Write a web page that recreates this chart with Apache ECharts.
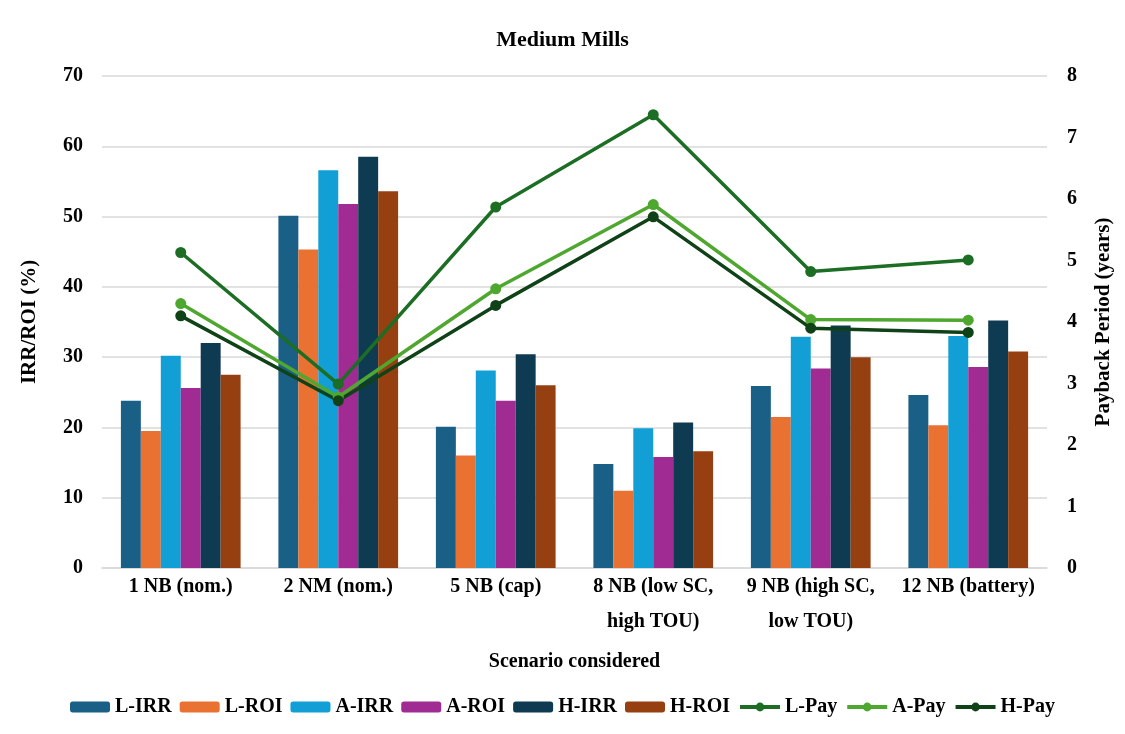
<!DOCTYPE html>
<html>
<head>
<meta charset="utf-8">
<script src="https://cdn.jsdelivr.net/npm/echarts@6/dist/echarts.min.js"></script>
<style>
  html, body { margin: 0; padding: 0; background: #ffffff; }
  #chart { width: 1125px; height: 734px; }
</style>
</head>
<body>
<div id="chart"></div>
<script>
// Scenarios on the category axis
const categories = ['1 NB (nom.)', '2 NM (nom.)', '5 NB (cap)', '8 NB (low SC,\nhigh TOU)', '9 NB (high SC,\nlow TOU)', '12 NB (battery)'];

// IRR / ROI (%) for low (L), average (A) and high (H) cases
const lIrr = [23.8, 50.1, 20.1, 14.8, 25.9, 24.6];
const lRoi = [19.5, 45.3, 16.0, 11.0, 21.5, 20.3];
const aIrr = [30.2, 56.6, 28.1, 19.9, 32.9, 33.0];
const aRoi = [25.6, 51.8, 23.8, 15.8, 28.4, 28.6];
const hIrr = [32.0, 58.5, 30.4, 20.7, 34.5, 35.2];
const hRoi = [27.5, 53.6, 26.0, 16.6, 30.0, 30.8];

// Payback period (years)
const lPay = [5.13, 2.99, 5.87, 7.37, 4.82, 5.01];
const aPay = [4.30, 2.78, 4.54, 5.91, 4.04, 4.03];
const hPay = [4.10, 2.72, 4.27, 5.71, 3.90, 3.83];

// Axis ranges
const leftMax = 70, leftStep = 10;
const rightMax = 8, rightStep = 1;

const FONT = '"Liberation Serif", "Times New Roman", serif';

function bar(name, data, color) {
  return {
    name, type: 'bar', data, yAxisIndex: 0,
    barGap: '0%', barCategoryGap: '24%',
    itemStyle: { color }
  };
}
function line(name, data, color) {
  return {
    name, type: 'line', data, yAxisIndex: 1,
    symbol: 'circle', symbolSize: 11,
    lineStyle: { width: 3.5, color },
    itemStyle: { color }, z: 5
  };
}

const chart = echarts.init(document.getElementById('chart'));
chart.setOption({
  animation: false,
  backgroundColor: '#ffffff',
  textStyle: { fontFamily: FONT },
  title: {
    text: 'Medium Mills', left: 'center', top: 24,
    textStyle: { fontFamily: FONT, fontWeight: 'bold', fontSize: 22, color: '#000' }
  },
  legend: {
    top: 692, left: 'center',
    itemWidth: 40, itemHeight: 11, itemGap: 8,
    lineStyle: { width: 4 },
    textStyle: { fontFamily: FONT, fontWeight: 'bold', fontSize: 20, color: '#000', padding: [0, 0, 0, 0] },
    data: ['L-IRR', 'L-ROI', 'A-IRR', 'A-ROI', 'H-IRR', 'H-ROI', 'L-Pay', 'A-Pay', 'H-Pay']
  },
  grid: { left: 102, right: 78, top: 76, bottom: 166 },
  xAxis: {
    type: 'category', data: categories,
    axisLine: { show: true, lineStyle: { color: '#d9d9d9', width: 1.5 } },
    axisTick: { show: false },
    axisLabel: {
      interval: 0, hideOverlap: false,
      fontFamily: FONT, fontWeight: 'bold', fontSize: 20, color: '#000', margin: 1, lineHeight: 35
    },
    name: 'Scenario considered', nameLocation: 'middle', nameGap: 84,
    nameTextStyle: { fontFamily: FONT, fontWeight: 'bold', fontSize: 20, color: '#000' }
  },
  yAxis: [
    {
      type: 'value', min: 0, max: leftMax, interval: leftStep,
      axisLine: { show: false }, axisTick: { show: false },
      axisLabel: { fontFamily: FONT, fontWeight: 'bold', fontSize: 20, color: '#000', margin: 19 },
      splitLine: { lineStyle: { color: '#d9d9d9', width: 1.5 } },
      name: 'IRR/ROI (%)', nameLocation: 'middle', nameGap: 62, nameRotate: 90,
      nameTextStyle: { fontFamily: FONT, fontWeight: 'bold', fontSize: 21, color: '#000' }
    },
    {
      type: 'value', min: 0, max: rightMax, interval: rightStep,
      axisLine: { show: false }, axisTick: { show: false },
      axisLabel: { fontFamily: FONT, fontWeight: 'bold', fontSize: 20, color: '#000', margin: 20 },
      splitLine: { show: false },
      name: 'Payback Period (years)', nameLocation: 'middle', nameGap: 46, nameRotate: 90,
      nameTextStyle: { fontFamily: FONT, fontWeight: 'bold', fontSize: 21, color: '#000' }
    }
  ],
  series: [
    bar('L-IRR', lIrr, '#1a5f85'),
    bar('L-ROI', lRoi, '#e97132'),
    bar('A-IRR', aIrr, '#119fd6'),
    bar('A-ROI', aRoi, '#a02b93'),
    bar('H-IRR', hIrr, '#0e3a52'),
    bar('H-ROI', hRoi, '#964012'),
    line('L-Pay', lPay, '#1b6e23'),
    line('A-Pay', aPay, '#4ea72e'),
    line('H-Pay', hPay, '#0f4317')
  ]
});
</script>
</body>
</html>
